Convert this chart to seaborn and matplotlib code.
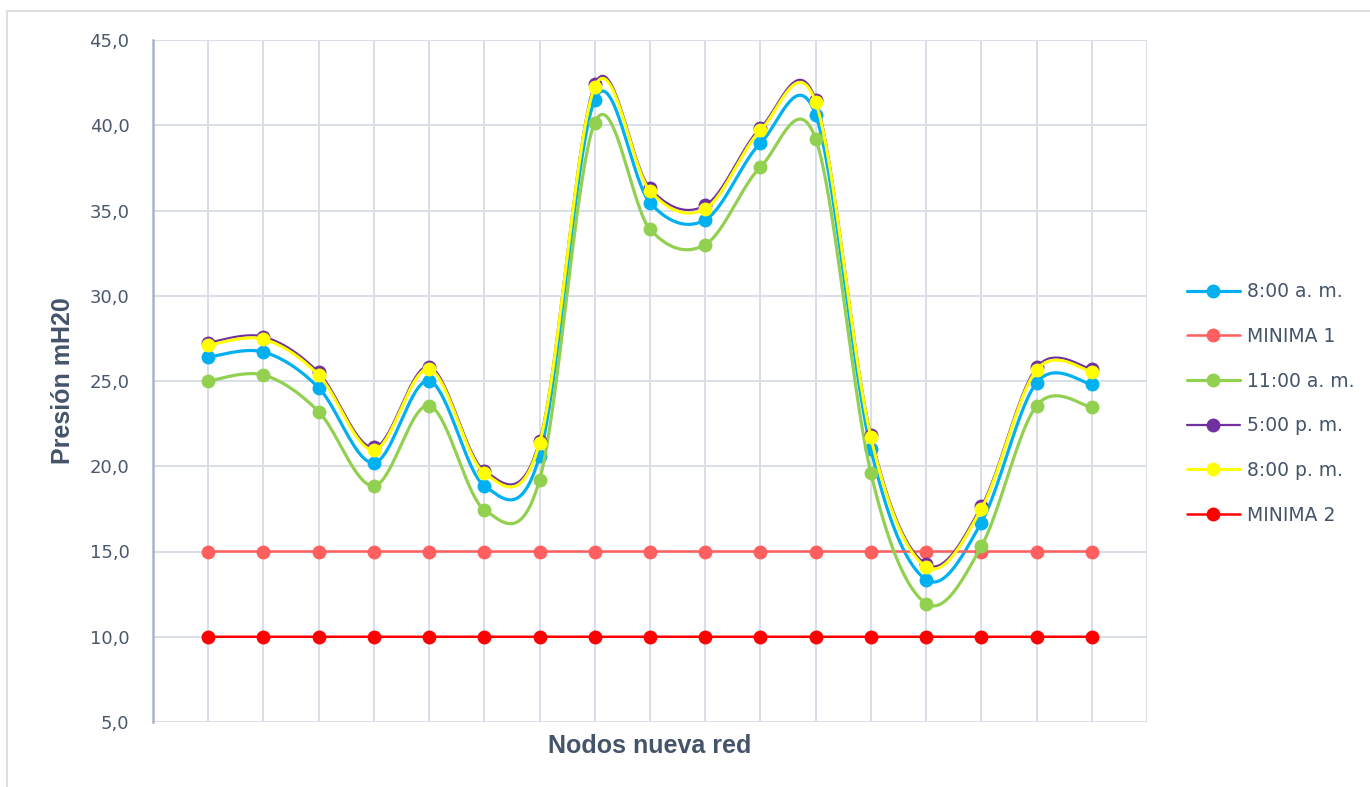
import numpy as np
import pandas as pd
import matplotlib
matplotlib.use("Agg")
import matplotlib.pyplot as plt
import seaborn as sns
from matplotlib.lines import Line2D
from matplotlib.patches import Rectangle
from matplotlib.ticker import FuncFormatter, MultipleLocator

# Nodes of the new network (x categories)
nodos = list(range(1, 18))

# Pressure (mH2O) at each node for each time of day
presion_0800am = [26.4, 26.7, 24.6, 20.2, 25.0, 18.85, 20.6, 41.5, 35.45, 34.45,
                  38.95, 40.6, 21.0, 13.35, 16.7, 24.9, 24.8]
minima_1 = [15.0] * 17
presion_1100am = [25.0, 25.35, 23.2, 18.85, 23.55, 17.45, 19.2, 40.15, 33.9, 33.0,
                  37.55, 39.2, 19.6, 11.95, 15.3, 23.55, 23.45]
presion_0500pm = [27.25, 27.6, 25.5, 21.1, 25.85, 19.75, 21.5, 42.4, 36.3, 35.3,
                  39.85, 41.5, 21.85, 14.25, 17.65, 25.8, 25.7]
presion_0800pm = [27.1, 27.45, 25.35, 20.95, 25.7, 19.6, 21.35, 42.25, 36.15, 35.1,
                  39.7, 41.35, 21.7, 14.1, 17.5, 25.65, 25.55]
minima_2 = [10.0] * 17

etiquetas = ["8:00 a. m.", "MINIMA 1", "11:00 a. m.", "5:00 p. m.", "8:00 p. m.", "MINIMA 2"]
valores = [presion_0800am, minima_1, presion_1100am, presion_0500pm, presion_0800pm, minima_2]
colores = ["#00B0F0", "#FF5F5F", "#92D050", "#7030A0", "#FFFF00", "#FF0000"]
grosores = [2.3, 1.8, 2.3, 1.6, 2.2, 1.8]

TEXT = "#44546A"


def suavizar(x, y, n=40):
    """Smoothed curve through the points (Bezier segments, Catmull-Rom tangents)."""
    pts = np.column_stack([x, y]).astype(float)
    ext = np.vstack([pts[0], pts, pts[-1]])
    partes = []
    m = len(pts)
    for i in range(m - 1):
        p0, p1, p2, p3 = ext[i], ext[i + 1], ext[i + 2], ext[i + 3]
        c1 = p1 + (p2 - p0) / 6.0
        c2 = p2 - (p3 - p1) / 6.0
        t = np.linspace(0, 1, n, endpoint=(i == m - 2))[:, None]
        seg = ((1 - t) ** 3) * p1 + 3 * ((1 - t) ** 2) * t * c1 \
            + 3 * (1 - t) * (t ** 2) * c2 + (t ** 3) * p2
        partes.append(seg)
    return np.vstack(partes)


sns.set_theme(style="white")
plt.rcParams["font.family"] = ["DejaVu Sans"]

fig = plt.figure(figsize=(13.7, 7.87), dpi=100)
ax = fig.add_axes([153 / 1370, 1 - 722 / 787, 994 / 1370, 682 / 787])

for i, (lab, vals, col, lw) in enumerate(zip(etiquetas, valores, colores, grosores)):
    curva = suavizar(nodos, vals)
    df = pd.DataFrame({"nodo": curva[:, 0], "presion": np.round(curva[:, 1], 6)})
    sns.lineplot(data=df, x="nodo", y="presion", sort=False, estimator=None,
                 color=col, lw=lw, ax=ax, zorder=3 + 2 * i, snap=False)
    sns.scatterplot(x=nodos, y=vals, color=col, s=100, linewidth=0, ax=ax,
                    zorder=4 + 2 * i)

ax.set_xlim(0, 18)
ax.set_ylim(5, 45)
ax.set_xticks(range(1, 19))
ax.xaxis.set_ticklabels([])
ax.yaxis.set_major_locator(MultipleLocator(5))
ax.yaxis.set_major_formatter(FuncFormatter(lambda v, p: f"{v:.1f}".replace(".", ",")))
ax.grid(True, color="#D9DEE7", lw=1.4, zorder=0)
ax.set_axisbelow(True)
ax.tick_params(axis="both", length=0)
ax.tick_params(axis="y", labelsize=13, labelcolor="#4A586E", pad=17)

for s in ["top", "right", "bottom"]:
    ax.spines[s].set_visible(False)
ax.spines["left"].set_color("#AAB4C6")
ax.spines["left"].set_linewidth(1.8)

ax.set_xlabel("Nodos nueva red", family="Liberation Sans", fontweight="bold",
              fontsize=18, color=TEXT)
ax.set_ylabel("Presión mH20", family="Liberation Sans", fontweight="bold",
              fontsize=18, color=TEXT)
ax.xaxis.set_label_coords(0.5, -0.018)
ax.yaxis.set_label_coords(-0.078, 0.5)

handles = [Line2D([0], [0], color=c, lw=lw, marker="o", markersize=10,
                  markeredgewidth=0) for c, lw in zip(colores, grosores)]
fig.legend(handles, etiquetas, loc="center left",
           bbox_to_anchor=(1187 / 1370, 1 - 403.5 / 787), frameon=False,
           fontsize=13.5, labelcolor=TEXT, handlelength=2.8, handletextpad=0.4,
           labelspacing=1.37, borderpad=0, borderaxespad=0)

fig.patches.append(Rectangle((7 / 1370, -0.05), 1.2, 1 - 11 / 787 + 0.05,
                             transform=fig.transFigure, fill=False,
                             edgecolor="#D9D9D9", lw=1.2))

fig.savefig("out.png", dpi=100, facecolor="white")
